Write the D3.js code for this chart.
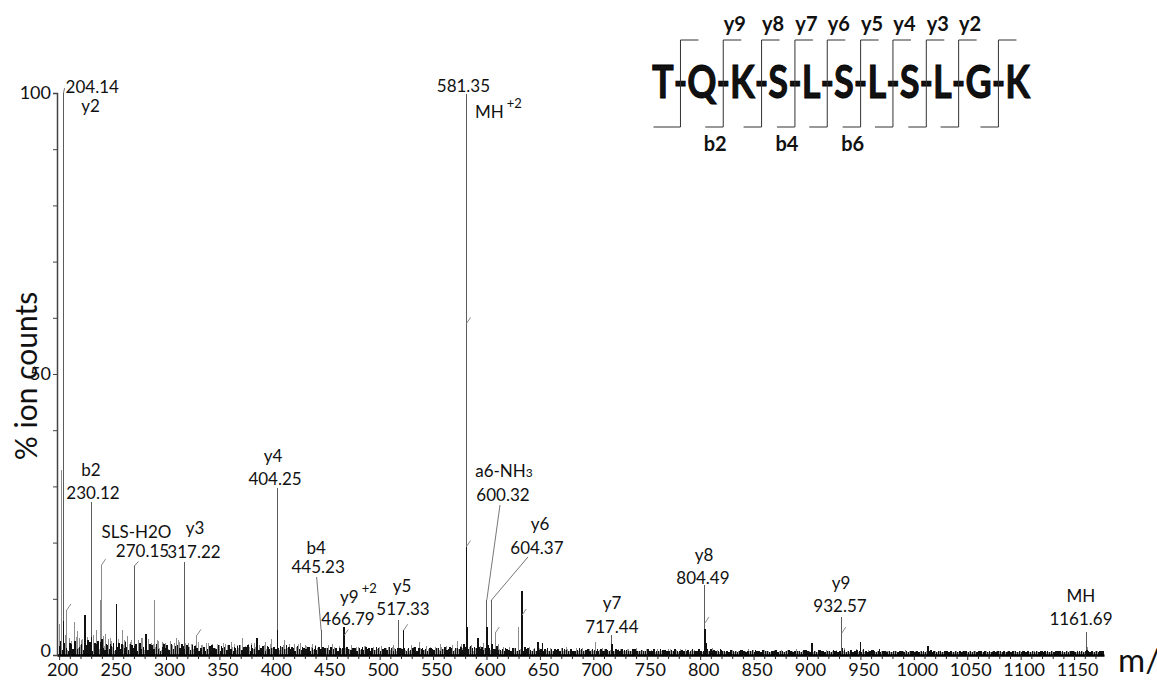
<!DOCTYPE html>
<html>
<head>
<meta charset="utf-8">
<script src="https://cdn.jsdelivr.net/npm/d3@7"></script>
<style>
  html, body { margin: 0; padding: 0; background: #fff; }
  svg { display: block; }
  text { font-family: Lato, "Open Sans", sans-serif; fill: #111; }
</style>
</head>
<body>
<svg id="chart" width="1157" height="681"></svg>
<script>
// ---------------- data ----------------
const mzDomain = [198, 1178];
const xTickValues = d3.range(200, 1171, 10);   // labelled every 50
const yTickValues = d3.range(0, 101, 10);      // labelled 0, 50, 100

// annotated fragment ions
const ionMz        = [204.14, 230.12, 270.15, 317.22, 404.25, 445.23, 466.79, 517.33, 581.35, 600.32, 604.37, 717.44, 804.49, 932.57, 1161.69];
const ionIntensity = [100,    27.3,   15.8,   16.6,   29.7,   4.4,    5.0,    6.2,    99.8,   9.8,    9.7,    3.6,    12.5,   6.8,    4.1];
const ionNames     = ["y2",   "b2",   "SLS-H2O", "y3", "y4",  "b4",   "y9",   "y5",   "MH",   "a6-NH", "y6",  "y7",   "y8",   "y9",   "MH"];
const ionSuffix    = ["",     "",     "",     "",     "",     "",     "+2",   "",     "+2",   "3",    "",     "",     "",     "",     ""];

// other peaks of the main (grey) trace: [m/z, % intensity]
const greyPeaks = [
  [200.6,5.5],[202.6,33],[205.5,3.5],[207.2,8],[209.5,3],[212,2.5],[214.1,5.9],[216.9,4.2],[219.5,3],[221,2.6],
  [226.5,3.2],[228,2.2],[232.5,3.5],[235.1,4.4],[238.3,9.8],[239.7,16],[241.5,3.3],[243.2,3.8],[246,2.8],[249,2.5],
  [259,4.4],[261.5,2.6],[264.2,3.3],[267,2.4],[274,2.7],[277,3],[283.5,2.8],[286,2.2],[289.6,9.7],[293,2.5],
  [296.5,2.4],[300,2.1],[304,2.5],[308,2.2],[310.2,3],[313,2.3],[321,2.2],[325,2.0],[329,3.5],[333,1.8],
  [338,2.1],[344,1.9],[350,1.8],[356,2.0],[361,2.3],[367,1.8],[372,3.0],[377,2.0],[383,2.2],[388,1.7],
  [393,2.4],[399,2.8],[411,2.7],[416,1.9],[420,2.0],[426,2.2],[431,1.8],[437,2.0],[452,1.6],[456,2.0],
  [462,1.5],[474,1.7],[480,1.5],[487,1.6],[494,1.4],[502,1.6],[508,1.5],[513,1.7],[530,1.7],[537,2.4],
  [544,1.6],[552,1.5],[557,2.0],[563,1.6],[568,1.8],[573,2.5],[577,1.9],[586,1.8],[594,1.6],[597,2.2],
  [608.2,3.9],[611,2.0],[616,1.4],[622,1.5],[630,5.0],[633.4,7.1],[640,1.5],[645,1.3],[660,1.3],[667,1.1],
  [675,1.4],[684,1.2],[690,1.3],[702,2.4],[709,1.2],[725,1.1],[733,1.0],[740,1.2],[752,1.0],[760,1.1],
  [770,1.0],[782,1.1],[795,0.9],[806,1.3],[812,1.2],[830,0.9],[845,1.0],[862,0.8],[876,0.9],[890,1.0],
  [918,0.9],[935,1.3],[946,1.0],[958,0.9],[975,0.8],[992,0.9],[1006,0.8],[1024,0.8],[1040,0.7],[1058,0.8],
  [1077,0.7],[1095,0.8],[1113,0.7],[1130,0.7],[1146,0.8],[1163,1.5],[1170,0.7]
];

// peaks of the overlaid (black) trace: [m/z, % intensity]
const blackPeaks = [
  [201.5,2.5],[204.3,6],[210,2.2],[215.5,2.0],[224.1,7.1],[227,2.6],[230.3,3.2],[233.8,2.2],[236.5,2.5],[240,2.8],
  [244.5,2.0],[248,1.9],[253.5,9.1],[256,2.2],[262,2.4],[268,1.8],[272,2.0],[275.5,2.1],[281.5,3.8],[285,1.9],
  [291,1.7],[298,1.9],[305,2.0],[311,1.8],[316,1.6],[319.5,1.8],[327,1.6],[336,1.5],[343,1.8],[352,1.6],
  [359,1.7],[364,1.5],[369,1.7],[375,1.5],[380,1.8],[385,3.0],[391,1.6],[396,1.5],[404.4,4.4],[407,1.6],
  [413,1.8],[418,1.5],[423,1.6],[428,1.4],[434,1.5],[440,1.6],[447,1.4],[454,1.5],[459,1.3],[466.8,5.0],
  [470,1.5],[477,1.3],[484,1.5],[490,1.3],[497,1.4],[505,1.2],[511,1.3],[519,1.3],[522.5,4.4],[527,1.3],
  [533,1.4],[540,1.3],[548,1.2],[555,1.3],[561,1.2],[566,1.4],[571,1.2],[576,1.5],[579,2.0],[581.3,19.3],
  [582.3,5],[585,1.6],[589,1.4],[592,3.0],[596,1.5],[600.4,5.0],[602,1.8],[605,2.0],[610,1.6],[618,1.3],
  [625,1.2],[633.3,11.4],[636,1.5],[648,2.4],[652.6,2.1],[657,1.2],[664,1.1],[671,1.2],[679,1.1],[687,1.2],
  [695,1.0],[704,1.1],[712,1.0],[717.5,2.0],[721,1.0],[729,0.9],[737,1.0],[745,0.9],[757,1.0],[765,0.9],
  [776,1.0],[788,0.9],[799,1.0],[804.5,4.7],[805.5,2.2],[810,1.0],[820,0.9],[838,0.9],[852,0.9],[868,0.8],
  [883,0.9],[897,0.9],[904.7,2.1],[912,0.9],[926,0.8],[933,1.2],[941,0.9],[950,2.4],[953,1.1],[962,0.9],
  [968,1.0],[983,0.8],[998,0.8],[1013.3,1.6],[1016,0.9],[1031,0.8],[1049,0.7],[1066,0.8],[1084,0.7],[1102,0.8],
  [1120,0.7],[1137,0.8],[1155,0.7],[1162,0.9],[1174,0.7]
];

// unlabelled annotation stubs: [m/z, % intensity]
const stubPeaks = [[207.2,8],[239.7,16],[329,3.5],[466.9,3.5],[522.5,4.4],[581.35,59],[581.3,19.3],[608.2,3.9],[633.4,7.1],[804.49,5.7],[932.57,3.9]];

// baseline noise, grey trace: one reading every 2 m/z starting at 200
const greyNoiseStart = 200;
const greyNoise = [
  2.4,1.1,3.0,1.8,.9,2.6,1.4,2.0,3.2,1.2,1.7,2.8,.9,1.5,2.2,3.1,1.3,1.9,2.5,1.0,2.7,1.6,1.2,2.3,3.0,1.4,.8,2.1,2.9,1.5,1.8,
  2.5,1.2,1.9,2.6,1.0,1.6,2.3,1.4,3.0,.9,1.8,2.4,1.1,2.0,1.5,2.7,1.3,.9,2.2,1.6,1.1,2.4,1.7,1.0,1.9,2.6,1.2,1.5,2.1,.8,1.4,2.0,1.1,1.7,2.3,
  1.3,1.8,.9,1.5,2.1,1.0,1.6,1.2,1.9,.8,1.4,2.2,1.1,1.7,1.0,1.5,2.0,.9,1.3,1.8,1.2,1.6,.8,1.4,2.1,1.1,1.5,1.9,.9,1.2,1.7,1.0,1.4,2.0,1.3,
  1.1,1.6,.9,1.4,1.8,1.0,1.3,1.7,.8,1.2,1.5,1.9,1.0,1.3,.8,1.6,1.1,1.4,.9,1.7,1.2,1.0,1.5,.8,1.3,1.8,1.1,.9,1.4,1.2,1.6,1.0,.8,1.3,1.5,
  1.0,1.2,.8,1.5,1.1,.9,1.3,1.6,1.0,.8,1.2,1.4,.9,1.1,1.5,.8,1.0,1.3,1.1,.9,1.4,1.2,.8,1.0,1.3,1.6,.9,1.1,.8,1.2,1.4,1.0,.9,1.3,1.1,
  .9,1.2,1.0,1.4,.8,1.1,1.3,.9,1.5,1.0,1.2,.8,1.1,1.4,.9,1.3,1.0,1.6,1.2,.9,1.1,1.4,1.0,.8,1.3,1.5,1.1,.9,1.2,1.0,1.4,.9,1.2,1.1,.8,
  1.0,.8,1.2,.9,1.1,.7,1.0,1.3,.8,.9,1.1,.7,1.2,.9,1.0,.8,1.1,.7,.9,1.2,.8,1.0,.9,.7,1.1,.8,1.0,.9,.7,1.2,.8,.9,1.0,.7,.9,
  .8,1.0,.7,.9,1.1,.8,.7,1.0,.9,.8,1.1,.7,.9,.8,1.0,.7,.8,.9,1.1,.7,.8,1.0,.9,.7,.8,1.0,.8,.7,.9,1.1,.8,.7,.9,.8,1.0,
  .7,.9,.8,.6,1.0,.8,.7,.9,.6,.8,1.0,.7,.8,.9,.6,.8,.7,1.0,.8,.6,.9,.7,.8,1.0,.7,.6,.9,.8,.7,1.1,.8,.7,.9,.6,.8,
  .7,.6,.8,.7,.9,.6,.7,.8,.6,.9,.7,.6,.8,.7,.9,.6,.8,.7,.6,.9,.7,.8,.6,.7,.9,.6,.7,.8,.6,.7,.9,.6,.8,.7,.6,
  .8,.6,.7,.9,.6,.7,.8,.6,.7,.6,.9,.7,.6,.8,.7,.6,.8,.7,.9,.6,.7,.8,.6,.7,.6,.9,.7,.8,.6,.7,.9,.6,.8,.7,.6,
  .7,.6,.8,.5,.7,.6,.8,.7,.5,.6,.8,.7,.6,.5,.7,.8,.6,.7,.5,.6,.8,.6,.7,.5,.6,.7,.8,.6,.5,.7,.6,.8,.6,.5,.7,
  .6,.7,.5,.6,.8,.6,.5,.7,.6,.5,.7,.6,.8,.5,.6,.7,.5,.6,.7,.6,.5,.8,.6,.5,.7,.6,.5,.6,.7,.5,.6,.8,.6,.5,.7,
  .6,.5,.7,.6,.5,.7,.6,.8,.5,.6,.7,.5,.6,.5,.7,.6,.5,.7,.6,.5,.6,.8,.5,.6,.7,.5,.6,.5,.7,.6,.5,.6,.7,.5,.6,.7,.5,.6
];

// baseline noise, black trace: one reading every 2 m/z starting at 201
const blackNoiseStart = 201;
const blackNoise = [
  1.6,.9,2.2,1.3,.8,1.9,1.1,2.5,1.0,1.4,2.0,.9,1.7,1.2,2.3,.8,1.5,1.9,1.0,2.4,1.3,.9,1.8,1.1,1.6,2.1,.9,1.4,1.0,2.0,1.2,
  1.5,.9,1.9,1.2,1.6,.8,2.1,1.0,1.4,1.8,.9,1.3,1.7,1.0,2.0,1.1,.8,1.5,1.2,1.8,.9,1.4,1.1,1.6,.8,1.3,1.9,1.0,1.2,1.5,.9,1.7,1.1,1.3,.8,
  1.2,1.5,.8,1.1,1.6,.9,1.3,1.0,1.7,.8,1.2,1.4,.9,1.5,1.1,.8,1.3,1.6,1.0,.9,1.4,1.1,1.7,.8,1.2,1.0,1.5,.9,1.3,1.1,.8,1.6,1.0,1.2,1.4,
  1.0,1.3,.8,1.5,1.1,.9,1.4,1.0,1.2,.8,1.6,1.1,.9,1.3,1.0,1.5,.8,1.2,1.1,.9,1.4,1.0,.8,1.3,1.2,.9,1.5,1.0,1.1,.8,1.3,1.2,.9,1.4,1.0,
  .9,1.2,1.0,.8,1.3,1.1,.9,1.4,1.0,.8,1.2,.9,1.1,1.3,.8,1.0,1.2,.9,1.4,1.0,.8,1.1,1.3,.9,1.0,1.2,.8,1.1,.9,1.3,1.0,.8,1.2,1.1,.9,
  1.0,.8,1.2,1.1,.9,1.3,1.0,.8,1.1,1.4,.9,1.0,1.2,.8,1.1,1.3,1.0,.9,1.2,1.5,1.0,1.1,1.3,.9,1.2,1.4,1.0,.9,1.3,1.1,1.2,1.5,1.0,1.1,.9,
  .9,1.0,.8,1.1,.9,.7,1.0,1.2,.8,.9,1.1,.8,1.0,1.3,.9,.8,1.0,.7,.9,1.1,.8,1.0,.9,.7,1.0,.8,.9,1.1,.8,.7,1.0,.9,.8,1.0,.7,
  .8,.9,.7,1.0,.8,.9,.7,.8,1.0,.9,.7,.8,1.1,.8,.7,.9,.8,1.0,.7,.8,.9,.7,1.0,.8,.9,.7,.8,.9,1.0,.7,.8,.9,.7,.8,1.0,
  .7,.8,.9,.7,.8,1.0,.7,.9,.8,.7,.9,.8,1.0,.7,.8,.9,.7,.8,.9,.7,1.0,.8,.7,.9,.8,.7,.9,1.0,.8,.7,.9,.8,.7,1.0,.8,
  .7,.8,.6,.9,.7,.8,.6,.7,.9,.8,.6,.7,.8,.9,.6,.7,.8,.6,.9,.7,.8,.6,.7,.8,.9,.6,.7,.8,.6,.7,.9,.7,.6,.8,.7,
  .8,.6,.7,.9,.7,.6,.8,.7,.6,.9,.7,.8,.6,.7,.8,.6,.9,.7,.6,.8,.7,.9,.6,.7,.8,.6,.7,.9,.8,.6,.7,.8,.6,.7,.9,
  .7,.6,.8,.6,.7,.8,.6,.7,.6,.8,.7,.6,.7,.8,.6,.7,.6,.8,.7,.6,.7,.6,.8,.7,.6,.7,.8,.6,.7,.6,.8,.7,.6,.7,.8,
  .6,.7,.6,.8,.6,.7,.6,.7,.8,.6,.7,.6,.7,.6,.8,.7,.6,.7,.6,.8,.6,.7,.6,.7,.8,.6,.7,.6,.7,.6,.8,.7,.6,.7,.6,
  .7,.6,.7,.6,.8,.6,.7,.6,.7,.6,.8,.7,.6,.7,.6,.7,.8,.6,.7,.6,.7,.6,.8,.7,.6,.7,.6,.7,.6,.8,.7,.6,.7,.6,.7,.6,.8,.7
];
const noiseStep = 2;

// peptide sequence and observed fragment ions per peptide bond
const residues  = ["T","Q","K","S","L","S","L","S","L","G","K"];
const yIonNames = ["", "y9","y8","y7","y6","y5","y4","y3","y2",""];
const bIonNames = ["", "b2","", "b4","", "b6","", "", "", ""];

// ---------------- layout ----------------
const plot = { left: 57, right: 1104, top: 93, bottom: 655 };
// label offsets: num = number position relative to peak top, ion = ion line relative to number
const placement = [
  { num: [2, 0],      anchor: "start", ion: [25, 19], leader: [-1, -5] },
  { num: [1.7, -2.6],  ion: [-2, -23] },
  { num: [8.4, -9.2],  ion: [-6, -19], leader: [-4, 4.5] },
  { num: [9.6, -3.7],  ion: [1, -24] },
  { num: [-2.3, -3],   ion: [-2, -23] },
  { num: [-3, -57.3],  ion: [-2, -19], leader: [-1.5, 4] },
  { num: [3.8, -1.9],  ion: [10.5, -22] },
  { num: [4.8, -5.2],  ion: [-1, -23] },
  { num: [-3.1, -2.3], ion: [11.5, 26], ionAnchor: "start" },
  { num: [16.2, -99],  ion: [1, -24], leader: [-3, 4] },
  { num: [45.8, -46.5], ion: [3, -24], leader: [-9, 3] },
  { num: [0, -1.8],    ion: [0, -24] },
  { num: [-2, -0.8],   ion: [1, -23] },
  { num: [-1.8, -4.8], ion: [1, -23] },
  { num: [-5.6, -7],   ion: [0, -23] }
];
const labelFont = 17;
const seqLayout = { left: 652, width: 378, baseline: 98, fontSize: 46, top: 40, bottom: 127, arm: 18, yLabelY: 31, bLabelY: 151 };

// ---------------- drawing ----------------
const svg = d3.select("#chart");
const x = d3.scaleLinear().domain(mzDomain).range([plot.left, plot.right]);
const y = d3.scaleLinear().domain([0, 100]).range([plot.bottom, plot.top]);

function drawSticks(g, pts, color, width) {
  g.selectAll("line").data(pts.filter(d => d[0] >= mzDomain[0] && d[0] <= mzDomain[1])).join("line")
    .attr("x1", d => x(d[0])).attr("x2", d => x(d[0]))
    .attr("y1", y(0)).attr("y2", d => y(d[1]))
    .attr("stroke", color).attr("stroke-width", width)
    .attr("shape-rendering", "crispEdges");
}

const greyNoisePts  = greyNoise.map((v, i) => [greyNoiseStart + i * noiseStep, v]);
const blackNoisePts = blackNoise.map((v, i) => [blackNoiseStart + i * noiseStep, v]);

drawSticks(svg.append("g"), greyNoisePts, "#9a9a9a", 1);
drawSticks(svg.append("g"), greyPeaks, "#8c8c8c", 1);
drawSticks(svg.append("g"), ionMz.map((m, i) => [m, ionIntensity[i]]), "#5c5c5c", 1);
drawSticks(svg.append("g"), blackNoisePts, "#111", 1.5);
drawSticks(svg.append("g"), blackPeaks, "#111", 1.5);

// small annotation stubs
svg.append("g").selectAll("line").data(stubPeaks).join("line")
  .attr("x1", d => x(d[0])).attr("y1", d => y(d[1]))
  .attr("x2", d => x(d[0]) + 4).attr("y2", d => y(d[1]) - 6)
  .attr("stroke", "#8a8a8a").attr("stroke-width", 1);

// axes
const xAxis = d3.axisBottom(x).tickValues(xTickValues)
  .tickFormat(d => d % 50 === 0 ? d : "").tickSizeOuter(0).tickPadding(2);
const gx = svg.append("g").attr("transform", `translate(0,${plot.bottom})`).call(xAxis);
gx.select(".domain").attr("stroke", "#000").attr("stroke-width", 2.4);
gx.selectAll(".tick line").attr("stroke", "#222").attr("y2", d => d % 50 === 0 ? 5 : 4);
gx.selectAll(".tick text").attr("font-size", 18).attr("font-family", "Lato, sans-serif").attr("fill", "#111").attr("dx", 3);

const yAxis = d3.axisLeft(y).tickValues(yTickValues)
  .tickFormat(d => d % 50 === 0 ? d : "").tickSizeOuter(0).tickSize(4).tickPadding(2);
const gy = svg.append("g").attr("transform", `translate(${plot.left},0)`).call(yAxis);
gy.select(".domain").attr("stroke", "#444").attr("stroke-width", 1.5);
gy.selectAll(".tick line").attr("stroke", "#444");
gy.selectAll(".tick text").attr("font-size", 18).attr("font-family", "Lato, sans-serif").attr("fill", "#111");
gy.selectAll(".tick text").filter(d => d === 0).attr("dy", "0.1em");

svg.append("text")
  .attr("transform", "translate(37,376) rotate(-90)")
  .attr("text-anchor", "middle").attr("font-size", 30)
  .text("% ion counts");

svg.append("text")
  .attr("x", 1118).attr("y", 672).attr("font-size", 33)
  .text("m/z");

// peak annotations
const lbl = svg.append("g");
ionMz.forEach((mz, i) => {
  const p = placement[i];
  const px = x(mz), py = y(ionIntensity[i]);
  const nx = px + p.num[0], ny = py + p.num[1];
  if (p.leader) {
    lbl.append("line")
      .attr("x1", nx + p.leader[0]).attr("y1", ny + p.leader[1])
      .attr("x2", px).attr("y2", py)
      .attr("stroke", "#777").attr("stroke-width", 1);
  }
  lbl.append("text")
    .attr("x", nx).attr("y", ny)
    .attr("text-anchor", p.anchor || "middle")
    .attr("font-size", labelFont)
    .text(mz.toFixed(2));
  const t = lbl.append("text")
    .attr("x", nx + p.ion[0]).attr("y", ny + p.ion[1])
    .attr("text-anchor", p.ionAnchor || "middle")
    .attr("font-size", labelFont);
  t.append("tspan").text(ionNames[i]);
  const suf = ionSuffix[i];
  if (suf === "3") {
    t.append("tspan").attr("font-size", 12).text(suf);
  } else if (suf) {
    t.append("tspan").attr("font-size", 13).attr("dx", 3).attr("dy", -10).text(suf);
  }
});

// peptide sequence with fragmentation brackets
const seqG = svg.append("g");
const seqChars = residues.flatMap((r, i) => i ? ["-", r] : [r]);
const probe = seqG.append("text").attr("font-size", seqLayout.fontSize).attr("font-weight", 700);
const charW = seqChars.map(c => { probe.text(c); return probe.node().getComputedTextLength(); });
probe.remove();
const k = seqLayout.width / d3.sum(charW);
const charX = [];
charW.reduce((acc, w) => { charX.push(acc); return acc + w * k; }, seqLayout.left);

seqG.selectAll("text.res").data(seqChars).join("text")
  .attr("class", "res")
  .attr("transform", (c, i) => `translate(${charX[i]},${seqLayout.baseline}) scale(${k},1)`)
  .attr("font-size", seqLayout.fontSize).attr("font-weight", 700)
  .attr("fill", "#000").attr("stroke", "#000").attr("stroke-width", 0.9)
  .text(c => c);

const bonds = seqChars.map((c, i) => c === "-" ? charX[i] + charW[i] * k / 2 : null).filter(v => v !== null);

seqG.selectAll("path.bracket").data(bonds).join("path")
  .attr("class", "bracket")
  .attr("d", (b, i) => `M${b + seqLayout.arm},${seqLayout.top}H${b}V${seqLayout.bottom}H${b - (i === 0 ? 27 : seqLayout.arm)}`)
  .attr("fill", "none").attr("stroke", "#333").attr("stroke-width", 1);

seqG.selectAll("text.yion").data(bonds).join("text")
  .attr("class", "yion")
  .attr("x", b => b + 11.5).attr("y", seqLayout.yLabelY)
  .attr("text-anchor", "middle").attr("font-size", 20).attr("font-weight", 700)
  .text((b, i) => yIonNames[i]);

seqG.selectAll("text.bion").data(bonds).join("text")
  .attr("class", "bion")
  .attr("x", b => b - 8).attr("y", seqLayout.bLabelY)
  .attr("text-anchor", "middle").attr("font-size", 20).attr("font-weight", 700)
  .text((b, i) => bIonNames[i]);
</script>
</body>
</html>
